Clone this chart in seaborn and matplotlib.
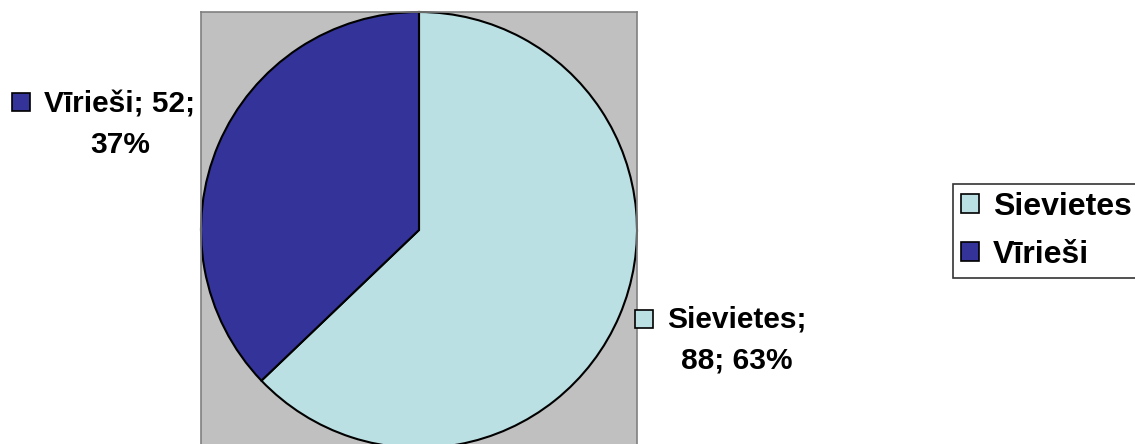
import matplotlib
matplotlib.use("Agg")
import matplotlib.pyplot as plt
import matplotlib.patches as mpatches
import seaborn as sns

# data
labels = ["Sievietes", "Vīrieši"]
counts = [88, 52]
percents = ["63%", "37%"]
colors = ["#BBE0E3", "#333399"]

sns.set_style("white")
plt.rcParams['font.family'] = ['Liberation Sans', 'DejaVu Sans']
plt.rcParams['text.color'] = 'black'

W, H = 1135, 444
fig = plt.figure(figsize=(W / 100, H / 100), dpi=100)

# pie area (gray plot area)
ax = fig.add_axes([201 / W, (H - 448) / H, 436 / W, 436 / H])
ax.pie(counts, colors=colors, startangle=90, counterclock=False,
       radius=1.0, wedgeprops=dict(edgecolor="black", linewidth=1.5))
ax.set_frame_on(True)
ax.set_facecolor("#C0C0C0")
ax.set_xlim(-1, 1)
ax.set_ylim(-1, 1)
ax.set_aspect("auto")
for s in ax.spines.values():
    s.set_visible(True)
    s.set_color("#808080")
    s.set_linewidth(1.2)

# data labels
def data_label(cx, cy, sqx, sqy, text, color):
    fig.text(cx / W, 1 - cy / H, text, ha="center", va="center",
             fontsize=21.5, fontweight="bold", linespacing=1.55)
    fig.patches.append(mpatches.Rectangle(((sqx - 9) / W, 1 - (sqy + 9) / H), 18 / W, 18 / H,
                                          transform=fig.transFigure, facecolor=color,
                                          edgecolor="black", linewidth=1.2))

data_label(120, 125, 21, 102, f"{labels[1]}; {counts[1]};\n{percents[1]}", colors[1])
data_label(737, 340, 644, 319, f"{labels[0]};\n{counts[0]}; {percents[0]}", colors[0])

# legend
handles = [mpatches.Patch(facecolor=c, edgecolor="black", linewidth=1.2) for c in colors]
leg = fig.legend(handles, labels, loc="upper left", bbox_to_anchor=(953 / W, 1 - 184 / H),
                 prop=dict(size=23, weight="bold"), frameon=True, fancybox=False,
                 handlelength=0.55, handleheight=0.55, handletextpad=0.45,
                 borderpad=0.25, labelspacing=0.55, borderaxespad=0)
leg.get_frame().set_edgecolor("black")
leg.get_frame().set_linewidth(1.2)

fig.savefig("out.png", dpi=100)
